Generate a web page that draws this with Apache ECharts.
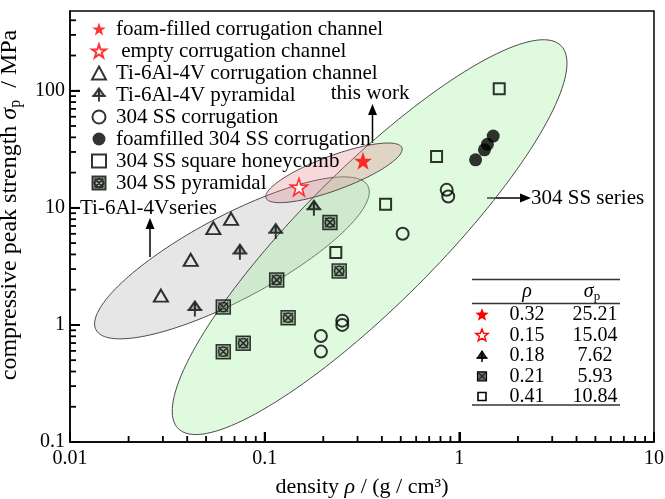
<!DOCTYPE html>
<html><head><meta charset="utf-8">
<script src="https://cdn.jsdelivr.net/npm/echarts@6/dist/echarts.min.js"></script>
<style>html,body{margin:0;padding:0;background:#fff}#c{width:665px;height:499px}</style>
</head><body><div id="c"></div>
<script>
const FONT = '"Liberation Serif","Times New Roman",serif';

// ---- axis ticks ----
const xTicksMajor = [0.01, 0.1, 1, 10];
const xTicksMinor = [0.02,0.03,0.04,0.05,0.06,0.07,0.08,0.09,0.2,0.3,0.4,0.5,0.6,0.7,0.8,0.9,2,3,4,5,6,7,8,9];
const yTicksMajor = [0.1, 1, 10, 100];
const yTicksMinor = [0.2,0.3,0.4,0.5,0.6,0.7,0.8,0.9,2,3,4,5,6,7,8,9,20,30,40,50,60,70,80,90,200,300,400];
const xMin = 0.01, xMax = 10, yMin = 0.1, yMax = 480;

// ---- series data (density, strength) ----
const foamFilledX = [0.32];
const foamFilledY = [25.21];
const emptyX = [0.15];
const emptyY = [15.04];
const tiCorrX = [0.0293, 0.0417, 0.0545, 0.0672];
const tiCorrY = [1.78, 3.59, 6.71, 8.05];
const tiPyrX = [0.0438, 0.0746, 0.114, 0.179];
const tiPyrY = [1.37, 4.18, 6.27, 9.94];
const ssCorrX = [0.1945, 0.1945, 0.2504, 0.2504, 0.5115, 0.861, 0.877];
const ssCorrY = [0.805, 0.592, 1.088, 1.0, 6.0, 14.25, 12.5];
const ssFoamX = [1.212, 1.346, 1.394, 1.493];
const ssFoamY = [25.7, 31.3, 34.9, 41.0];
const ssHoneyX = [0.232, 0.418, 0.764, 1.603];
const ssHoneyY = [4.15, 10.75, 27.4, 104];
const ssPyrX = [0.0613, 0.0613, 0.0776, 0.1153, 0.132, 0.2164, 0.2415];
const ssPyrY = [1.42, 0.591, 0.698, 2.42, 1.154, 7.49, 2.89];

// ---- region ellipses: center, major-axis tip, minor-axis tip (data space) ----
const ellipseNames = ['Ti-6Al-4V series', '304 SS series', 'this work'];
const ellipseCenter = [[0.0679, 3.74], [0.346, 5.62], [0.227, 19.9]];
const ellipseMajorTip = [[0.339, 15.4], [3.33, 242.6], [0.507, 32.6]];
const ellipseMinorTip = [[0.0856, 1.80], [0.611, 2.18], [0.2433, 14.5]];

// ---- table ----
const tableRho = ['0.32', '0.15', '0.18', '0.21', '0.41'];
const tableSigma = ['25.21', '15.04', '7.62', '5.93', '10.84'];

// ---- styles ----
const TICK = '#000';
const ellipseFill = ['rgba(150,150,150,0.24)', 'rgba(160,240,160,0.32)', 'rgba(225,120,130,0.28)'];
const STAR = 'path://M50,0 L61.8,35.1 L97.6,34.5 L68.7,56 L79.4,90.5 L50,69.5 L20.6,90.5 L31.3,56 L2.4,34.5 L38.2,35.1 Z';
const TIPYR = 'path://M10,0 L18,11 L2,11 Z M0,11 L20,11 M10,0 L10,19';
const SSPYR = 'path://M1,1 L19,1 L19,19 L1,19 Z M16,10 A6,6 0 1,1 4,10 A6,6 0 1,1 16,10 Z M4,4 L16,16 M16,4 L4,16';

const zip = (a, b) => a.map((v, i) => [v, b[i]]);
const ellipseData = ellipseCenter.map((c, i) => [c[0], c[1], ellipseMajorTip[i][0], ellipseMajorTip[i][1], ellipseMinorTip[i][0], ellipseMinorTip[i][1]]);

function scatter(name, xs, ys, symbol, size, itemStyle) {
  return { type: 'scatter', name, data: zip(xs, ys), symbol, symbolSize: size, itemStyle, z: 5 };
}
// all ticks (major flag in 3rd value) drawn through the axes' scales
const xTickData = xTicksMajor.map(v => [v, yMin, 1]).concat(xTicksMinor.map(v => [v, yMin, 0]));
const yTickData = yTicksMajor.map(v => [xMin, v, 1]).concat(yTicksMinor.map(v => [xMin, v, 0]));
function tickSeries(name, data, horizontal) {
  return {
    type: 'custom', name, data, clip: false, z: 20, encode: { x: 0, y: 1 },
    renderItem(params, api) {
      const p = api.coord([api.value(0), api.value(1)]);
      const len = api.value(2) ? 10 : 6;
      return {
        type: 'rect',
        shape: horizontal ? { x: p[0], y: p[1] - 0.9, width: len, height: 1.8 } : { x: p[0] - 0.9, y: p[1] - len, width: 1.8, height: len },
        style: { fill: TICK }
      };
    }
  };
}

const series = [
  {
    type: 'custom', name: 'regions', data: ellipseData, z: 1, clip: false,
    encode: { x: [0, 2, 4], y: [1, 3, 5] },
    renderItem(params, api) {
      const c = api.coord([api.value(0), api.value(1)]);
      const m = api.coord([api.value(2), api.value(3)]);
      const n = api.coord([api.value(4), api.value(5)]);
      const ux = m[0] - c[0], uy = m[1] - c[1], vx = n[0] - c[0], vy = n[1] - c[1];
      const pts = [];
      for (let i = 0; i < 160; i++) {
        const t = i / 160 * 2 * Math.PI;
        pts.push([c[0] + Math.cos(t) * ux + Math.sin(t) * vx, c[1] + Math.cos(t) * uy + Math.sin(t) * vy]);
      }
      return { type: 'polygon', shape: { points: pts }, style: { fill: ellipseFill[params.dataIndex], stroke: '#4a4a4a', lineWidth: 1 } };
    }
  },
  scatter('foam-filled corrugation channel', foamFilledX, foamFilledY, STAR, 18, { color: '#ff0000' }),
  scatter(' empty corrugation channel', emptyX, emptyY, STAR, 17, { color: '#fff', borderColor: '#ff0000', borderWidth: 1.6 }),
  scatter('Ti-6Al-4V corrugation channel', tiCorrX, tiCorrY, 'triangle', [14, 12], { color: 'transparent', borderColor: '#000', borderWidth: 2 }),
  scatter('Ti-6Al-4V pyramidal', tiPyrX, tiPyrY, TIPYR, 15, { color: 'rgba(0,0,0,0.35)', borderColor: '#050f05', borderWidth: 2 }),
  scatter('304 SS corrugation', ssCorrX, ssCorrY, 'circle', 12, { color: 'transparent', borderColor: '#000', borderWidth: 2 }),
  scatter('foamfilled 304 SS corrugation', ssFoamX, ssFoamY, 'circle', 13, { color: '#000' }),
  scatter('304 SS square honeycomb', ssHoneyX, ssHoneyY, 'rect', 11, { color: 'transparent', borderColor: '#000', borderWidth: 2 }),
  scatter('304 SS pyramidal', ssPyrX, ssPyrY, SSPYR, 14, { color: 'rgba(40,40,40,0.45)', borderColor: '#050f05', borderWidth: 1.5 }),
  tickSeries('x ticks', xTickData, false),
  tickSeries('y ticks', yTickData, true)
];
const legendNames = series.slice(1, 9).map(s => s.name);

// ---- helpers for pixel-space annotation glyphs (table icons, arrows) ----
function starPts(cx, cy, R) {
  const r = R * 0.42, pts = [];
  for (let i = 0; i < 10; i++) {
    const a = -Math.PI / 2 + i * Math.PI / 5, rr = i % 2 ? r : R;
    pts.push([cx + rr * Math.cos(a), cy + rr * Math.sin(a)]);
  }
  return pts;
}
function arrow(x1, y1, x2, y2) {
  const dx = x2 - x1, dy = y2 - y1, L = Math.hypot(dx, dy), ux = dx / L, uy = dy / L;
  const hl = 11, hw = 4.5;
  const bx = x2 - ux * hl, by = y2 - uy * hl;
  return [
    { type: 'line', shape: { x1, y1, x2: bx, y2: by }, style: { stroke: '#000', lineWidth: 1.5 } },
    { type: 'polygon', shape: { points: [[x2, y2], [bx - uy * hw, by + ux * hw], [bx + uy * hw, by - ux * hw]] }, style: { fill: '#000' } }
  ];
}
const txt = (x, y, text, size, align) => ({
  type: 'text', x, y, style: { text, fontFamily: FONT, fontSize: size, fill: '#000', align: align || 'left', verticalAlign: 'middle' }
});

const graphics = [];
graphics.push(txt(80, 208, 'Ti-6Al-4Vseries', 21));
graphics.push(...arrow(150, 257, 150, 218));
graphics.push(txt(370, 93, 'this work', 21, 'center'));
graphics.push(...arrow(372.5, 143, 372.5, 104));
graphics.push(txt(531, 198, '304 SS series', 21));
graphics.push(...arrow(487, 198, 531, 198));

// table
const tL = 472, tR = 620;
[279.5, 303.5, 405].forEach(y => graphics.push({ type: 'line', shape: { x1: tL, y1: y, x2: tR, y2: y }, style: { stroke: '#333', lineWidth: 1.3 } }));
graphics.push({ type: 'text', x: 527, y: 291.5, style: { text: 'ρ', fontFamily: FONT, fontSize: 20, fontStyle: 'italic', fill: '#000', align: 'center', verticalAlign: 'middle' } });
graphics.push({ type: 'text', x: 592, y: 291.5, style: { text: '{i|σ}{s|p}', fontFamily: FONT, fontSize: 20, fill: '#000', align: 'center', verticalAlign: 'middle',
  rich: { i: { fontFamily: FONT, fontSize: 20, fontStyle: 'italic' }, s: { fontFamily: FONT, fontSize: 13, padding: [10, 0, 0, 0] } } } });
const rowY = [315, 335.5, 356, 376.3, 396.5];
const mx = 482;
rowY.forEach((y, i) => {
  graphics.push(txt(527, y, tableRho[i], 20, 'center'));
  graphics.push(txt(595, y, tableSigma[i], 20, 'center'));
});
graphics.push({ type: 'polygon', shape: { points: starPts(mx, rowY[0], 7) }, style: { fill: '#ff0000' } });
graphics.push({ type: 'polygon', shape: { points: starPts(mx, rowY[1], 6.5) }, style: { fill: '#fff', stroke: '#ff0000', lineWidth: 1.4 } });
graphics.push({ type: 'polygon', shape: { points: [[mx, rowY[2] - 5], [mx + 4.5, rowY[2] + 2], [mx - 4.5, rowY[2] + 2]] }, style: { fill: '#333', stroke: '#000', lineWidth: 1.2 } });
graphics.push({ type: 'line', shape: { x1: mx - 5.5, y1: rowY[2] + 2, x2: mx + 5.5, y2: rowY[2] + 2 }, style: { stroke: '#000', lineWidth: 1.5 } });
graphics.push({ type: 'line', shape: { x1: mx, y1: rowY[2] - 5, x2: mx, y2: rowY[2] + 6 }, style: { stroke: '#000', lineWidth: 1.5 } });
graphics.push({ type: 'rect', shape: { x: mx - 4.5, y: rowY[3] - 4.5, width: 9, height: 9 }, style: { fill: '#666', stroke: '#000', lineWidth: 1.2 } });
graphics.push({ type: 'line', shape: { x1: mx - 3.5, y1: rowY[3] - 3.5, x2: mx + 3.5, y2: rowY[3] + 3.5 }, style: { stroke: '#000', lineWidth: 1 } });
graphics.push({ type: 'line', shape: { x1: mx + 3.5, y1: rowY[3] - 3.5, x2: mx - 3.5, y2: rowY[3] + 3.5 }, style: { stroke: '#000', lineWidth: 1 } });
graphics.push({ type: 'rect', shape: { x: mx - 4, y: rowY[4] - 4, width: 8, height: 8 }, style: { fill: '#fff', stroke: '#000', lineWidth: 1.6 } });

const axisLineStyle = { color: '#000', width: 1.5 };

const option = {
  animation: false,
  grid: { left: 70, right: 11, top: 11, bottom: 57, outerBoundsMode: 'none',
    show: true, borderColor: '#000', borderWidth: 1.5 },
  legend: {
    orient: 'vertical', left: 86, top: 13.5, itemWidth: 14, itemHeight: 13, itemGap: 1,
    symbolKeepAspect: true, selectedMode: false,
    data: legendNames,
    textStyle: { fontFamily: FONT, fontSize: 21, color: '#000', lineHeight: 20, padding: [0, 0, 0, 5] }
  },
  xAxis: {
    type: 'log', logBase: 10, min: xMin, max: xMax, position: 'bottom',
    name: 'density {i|ρ} / (g / cm³)', nameLocation: 'middle', nameGap: 34,
    nameTextStyle: { fontFamily: FONT, fontSize: 22, color: '#000', rich: { i: { fontFamily: FONT, fontSize: 22, fontStyle: 'italic' } } },
    axisLine: { show: true, lineStyle: axisLineStyle },
    axisTick: { show: true, inside: true, length: 10, lineStyle: { color: TICK, width: 2 }, customValues: xTicksMajor },
    axisLabel: { margin: 7, customValues: xTicksMajor, fontFamily: FONT, fontSize: 20, color: '#000' },
    splitLine: { show: false }, minorTick: { show: false }
  },
  yAxis: {
    type: 'log', logBase: 10, min: yMin, max: yMax, position: 'left',
    name: 'compressive peak strength {i|σ}{s|p}  / MPa', nameLocation: 'middle', nameGap: 44,
    nameTextStyle: { fontFamily: FONT, fontSize: 24, color: '#000', padding: [0, 0, 0, 43],
      rich: { i: { fontFamily: FONT, fontSize: 24, fontStyle: 'italic' }, s: { fontFamily: FONT, fontSize: 16, padding: [12, 0, 0, 0] } } },
    axisLine: { show: true, lineStyle: axisLineStyle },
    axisTick: { show: true, inside: true, length: 10, lineStyle: { color: TICK, width: 2 }, customValues: yTicksMajor },
    axisLabel: { margin: 5, customValues: yTicksMajor, fontFamily: FONT, fontSize: 20, color: '#000' },
    splitLine: { show: false }, minorTick: { show: false }
  },
  series,
  graphic: { elements: graphics }
};

const chart = echarts.init(document.getElementById('c'));
chart.setOption(option);
</script>
</body></html>
